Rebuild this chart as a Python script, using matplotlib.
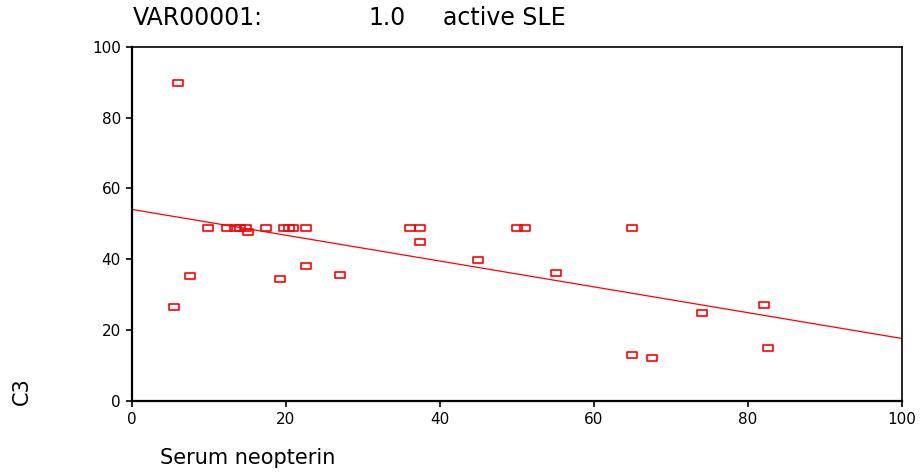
"""C3 vs serum neopterin scatter with fitted line (active SLE group)."""

import matplotlib
matplotlib.use("Agg")
import matplotlib.pyplot as plt
import numpy as np
from matplotlib.path import Path

# values
neopterin = [6.0, 5.5, 7.5, 9.9, 12.3, 13.4, 14.0, 14.8, 15.1, 17.4,
             19.7, 20.4, 20.9, 22.6, 19.2, 22.6, 27.0, 36.1, 37.4, 37.4,
             44.9, 50.0, 51.0, 55.1, 64.9, 64.9, 67.5, 74.0, 82.1, 82.6]
c3 = [89.8, 26.4, 35.2, 48.8, 48.8, 48.8, 48.8, 48.8, 47.7, 48.8,
      48.8, 48.8, 48.8, 48.8, 34.4, 38.1, 35.5, 48.8, 48.8, 44.8,
      39.8, 48.8, 48.8, 36.1, 48.8, 12.9, 12.1, 24.8, 27.1, 14.9]
ticks = [0, 20, 40, 60, 80, 100]

plt.rcParams["font.family"] = ["DejaVu Sans"]

# wide flat hollow box, like the SPSS marker
box = Path([(-1.5, -1), (1.5, -1), (1.5, 1), (-1.5, 1), (-1.5, -1)],
           [Path.MOVETO, Path.LINETO, Path.LINETO, Path.LINETO, Path.CLOSEPOLY])

fig = plt.figure(figsize=(9.21, 4.72), dpi=100)
ax = fig.add_axes([0.1433, 0.151, 0.8361, 0.7494])

ax.plot(neopterin, c3, linestyle="none", marker=box, markersize=6.8,
        markerfacecolor="none", markeredgecolor="#ff0000",
        markeredgewidth=1.2, clip_on=False)

slope, intercept = np.polyfit(neopterin, c3, 1)
xs = np.array([0, 100])
ax.plot(xs, intercept + slope * xs, color="#ff0000", linewidth=0.9)

ax.set_xlim(0, 100)
ax.set_ylim(0, 100)
ax.set_xticks(ticks)
ax.set_yticks(ticks)
ax.tick_params(direction="out", length=4, width=1.2, labelsize=11,
               colors="black", pad=4)
for side in ("left", "bottom"):
    ax.spines[side].set_linewidth(1.6)
for side in ("top", "right"):
    ax.spines[side].set_linewidth(1.2)

fig.text(133 / 921, 1 - 18 / 472, "VAR00001:", fontsize=17,
         ha="left", va="center")
fig.text(368 / 921, 1 - 18 / 472, "1.0", fontsize=17, ha="left", va="center")
fig.text(443 / 921, 1 - 18 / 472, "active SLE", fontsize=17,
         ha="left", va="center")

fig.text(22 / 921, 1 - 391 / 472, "C3", fontsize=15, rotation=90,
         ha="center", va="center")
fig.text(160 / 921, 1 - 458 / 472, "Serum neopterin", fontsize=15,
         ha="left", va="center")

fig.savefig("out.png", dpi=100)
plt.close(fig)
